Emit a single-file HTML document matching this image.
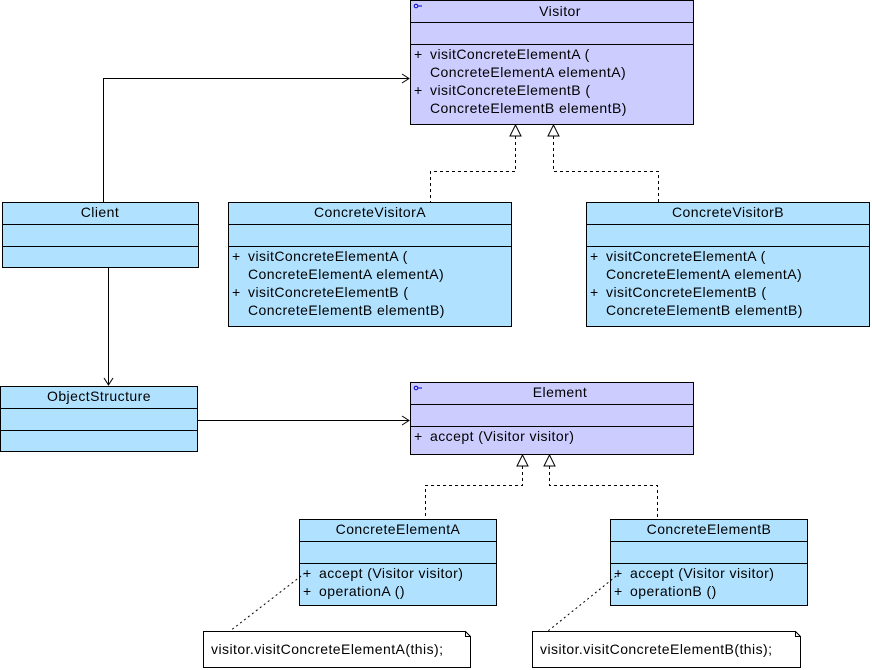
<!DOCTYPE html>
<html><head><meta charset="utf-8"><style>
html,body{margin:0;padding:0;background:#fff}
svg{display:block}
text{font-family:"Liberation Sans",Arial,sans-serif;font-size:14px;letter-spacing:0.45px;fill:#000}
</style></head><body>
<svg width="872" height="670" viewBox="0 0 872 670" xmlns="http://www.w3.org/2000/svg">
<g stroke="#000" stroke-width="1" shape-rendering="crispEdges">
<rect x="410.5" y="0.5" width="283" height="124" fill="#ccccff"/>
<line x1="410" y1="22.5" x2="694" y2="22.5"/><line x1="410" y1="44.5" x2="694" y2="44.5"/>
<rect x="228.5" y="202.5" width="283" height="124" fill="#b0e2ff"/>
<line x1="228" y1="224.5" x2="512" y2="224.5"/><line x1="228" y1="246.5" x2="512" y2="246.5"/>
<rect x="586.5" y="202.5" width="283" height="124" fill="#b0e2ff"/>
<line x1="586" y1="224.5" x2="870" y2="224.5"/><line x1="586" y1="246.5" x2="870" y2="246.5"/>
<rect x="2.5" y="202.5" width="196" height="65" fill="#b0e2ff"/>
<line x1="2" y1="224.5" x2="199" y2="224.5"/><line x1="2" y1="246.5" x2="199" y2="246.5"/>
<rect x="0.5" y="386.5" width="197" height="65" fill="#b0e2ff"/>
<line x1="0" y1="408.5" x2="198" y2="408.5"/><line x1="0" y1="430.5" x2="198" y2="430.5"/>
<rect x="410.5" y="382.5" width="283" height="72" fill="#ccccff"/>
<line x1="410" y1="404.5" x2="694" y2="404.5"/><line x1="410" y1="426.5" x2="694" y2="426.5"/>
<rect x="299.5" y="519.5" width="197" height="86" fill="#b0e2ff"/>
<line x1="299" y1="541.5" x2="497" y2="541.5"/><line x1="299" y1="563.5" x2="497" y2="563.5"/>
<rect x="610.5" y="519.5" width="197" height="86" fill="#b0e2ff"/>
<line x1="610" y1="541.5" x2="808" y2="541.5"/><line x1="610" y1="563.5" x2="808" y2="563.5"/>
<path d="M203.5 631.5 H465.5 L470.5 636.5 V667.5 H203.5 Z" fill="#fff"/>
<path d="M465.5 631.5 V636.5 H470.5" fill="none"/>
<path d="M532.5 631.5 H795.5 L800.5 636.5 V667.5 H532.5 Z" fill="#fff"/>
<path d="M795.5 631.5 V636.5 H800.5" fill="none"/>
</g>
<g stroke="#000" fill="none" stroke-width="1">
<path d="M103.5 202 V78.5 H409"/>
<path d="M402 74 L409 78.5 L402 83"/>
<path d="M108.5 267 V385"/>
<path d="M104 378 L108.5 385 L113 378"/>
<path d="M197 420.5 H409"/>
<path d="M402 416 L409 420.5 L402 425"/>
<g stroke-dasharray="3,3">
<path d="M515.5 136 V171.5 H430.5 V202"/>
<path d="M553.5 136 V171.5 H658.5 V202"/>
<path d="M522.5 466 V485.5 H425.5 V519"/>
<path d="M549.5 466 V485.5 H657.5 V519"/>
<path d="M305 573 L230 631" stroke-dasharray="2,3"/>
<path d="M620 573 L548 631" stroke-dasharray="2,3"/>
</g>
<path d="M515.5 125 L510 136 H521 Z" fill="#fff"/>
<path d="M553.5 125 L548 136 H559 Z" fill="#fff"/>
<path d="M522.5 455 L517 466 H528 Z" fill="#fff"/>
<path d="M549.5 455 L544 466 H555 Z" fill="#fff"/>
<circle cx="416" cy="6" r="1.8" stroke="#0000cc"/><line x1="418" y1="6" x2="422" y2="6" stroke="#0000cc"/>
<circle cx="416" cy="388" r="1.8" stroke="#0000cc"/><line x1="418" y1="388" x2="422" y2="388" stroke="#0000cc"/>
</g>
<g>
<text x="560" y="16" text-anchor="middle">Visitor</text>
<text x="414" y="59">+</text><text x="430" y="59">visitConcreteElementA (</text>
<text x="430" y="77">ConcreteElementA elementA)</text>
<text x="414" y="95">+</text><text x="430" y="95">visitConcreteElementB (</text>
<text x="430" y="113">ConcreteElementB elementB)</text>

<text x="370" y="217" text-anchor="middle">ConcreteVisitorA</text>
<text x="232" y="261">+</text><text x="248" y="261">visitConcreteElementA (</text>
<text x="248" y="279">ConcreteElementA elementA)</text>
<text x="232" y="297">+</text><text x="248" y="297">visitConcreteElementB (</text>
<text x="248" y="315">ConcreteElementB elementB)</text>

<text x="728" y="217" text-anchor="middle">ConcreteVisitorB</text>
<text x="590" y="261">+</text><text x="606" y="261">visitConcreteElementA (</text>
<text x="606" y="279">ConcreteElementA elementA)</text>
<text x="590" y="297">+</text><text x="606" y="297">visitConcreteElementB (</text>
<text x="606" y="315">ConcreteElementB elementB)</text>

<text x="100" y="217" text-anchor="middle">Client</text>
<text x="99" y="401" text-anchor="middle">ObjectStructure</text>

<text x="560" y="397" text-anchor="middle">Element</text>
<text x="414" y="441">+</text><text x="430" y="441">accept (Visitor visitor)</text>

<text x="398" y="534" text-anchor="middle">ConcreteElementA</text>
<text x="303" y="578">+</text><text x="319" y="578">accept (Visitor visitor)</text>
<text x="303" y="596">+</text><text x="319" y="596">operationA ()</text>

<text x="709" y="534" text-anchor="middle">ConcreteElementB</text>
<text x="614" y="578">+</text><text x="630" y="578">accept (Visitor visitor)</text>
<text x="614" y="596">+</text><text x="630" y="596">operationB ()</text>

<text x="211" y="654">visitor.visitConcreteElementA(this);</text>
<text x="540" y="654">visitor.visitConcreteElementB(this);</text>
</g>
</svg>
</body></html>
